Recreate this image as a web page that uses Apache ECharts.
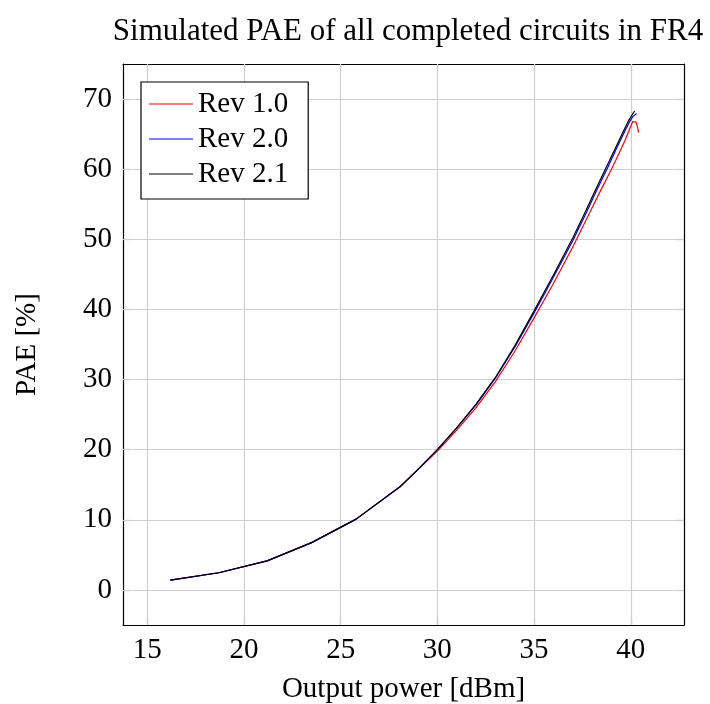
<!DOCTYPE html>
<html>
<head>
<meta charset="utf-8">
<script src="https://cdn.jsdelivr.net/npm/echarts@6/dist/echarts.min.js"></script>
<style>
html,body{margin:0;padding:0;background:#fff;}
#chart{width:710px;height:704px;}
</style>
</head>
<body>
<div id="chart"></div>
<script>
// ---- data ----
const title = 'Simulated PAE of all completed circuits in FR4';
const xName = 'Output power [dBm]';
const yName = 'PAE [%]';
const seriesNames = ['Rev 1.0', 'Rev 2.0', 'Rev 2.1'];
const seriesColors = ['#ff0000', '#0000ff', '#000000'];
const xTicks = [15, 20, 25, 30, 35, 40];
const yTicks = [0, 10, 20, 30, 40, 50, 60, 70];

const rev10 = [
  [16.2,1.4],[18.7,2.45],[21.2,4.15],[23.5,6.75],[25.8,10.1],[28.1,14.75],[29,17.15],
  [30,19.8],[31,22.8],[32,26.0],[33,29.7],[34,34.0],[35,38.8],[36,43.7],[37,48.9],
  [38,54.5],[38.5,57.3],[39,60.0],[39.4,62.3],[39.7,64.1],[39.95,65.8],[40.1,66.8],
  [40.18,67.05],[40.27,66.7],[40.35,66.0],[40.4,65.2]
];
const rev20 = [
  [16.2,1.4],[18.7,2.45],[21.2,4.15],[23.5,6.75],[25.8,10.1],[28.1,14.8],[29,17.2],
  [30,20.0],[31,23.1],[32,26.4],[33,30.2],[34,34.6],[35,39.5],[36,44.6],[37,49.8],
  [37.7,53.8],[38.2,56.8],[38.8,60.2],[39.2,62.6],[39.6,64.9],[39.9,66.6],[40.1,67.5],
  [40.3,67.95]
];
const rev21 = [
  [16.2,1.4],[18.7,2.45],[21.2,4.15],[23.5,6.75],[25.8,10.1],[28.1,14.8],[29,17.2],
  [30,20.0],[31,23.1],[32,26.5],[33,30.3],[34,34.8],[35,39.8],[36,44.9],[37,50.2],
  [37.7,54.2],[38.2,57.2],[38.7,60.1],[39.2,63.0],[39.6,65.3],[39.9,67.0],[40.1,67.9],
  [40.2,68.3]
];

const FONT = 'Liberation Serif';
const FS = 29;
const chart = echarts.init(document.getElementById('chart'));

function isMember(v, arr){ return arr.some(t => Math.abs(t - v) < 1e-6); }

function makeAxis(base, ticks, pos, withLabels){
  return {
    type: 'value', min: base.min, max: base.max, interval: base.interval,
    position: pos,
    axisLine: {show: true, onZero: false, lineStyle: {color: '#000', width: 1.2}},
    axisTick: {show: true, inside: true, length: 7, customValues: ticks,
      lineStyle: {color: '#a0a0a0', width: 1.2}},
    splitLine: {show: false},
    axisLabel: {show: withLabels, customValues: ticks, color: '#000', fontFamily: FONT,
      fontSize: FS, margin: 11,
      formatter: v => isMember(v, ticks) ? String(v) : ''}
  };
}

const xBase = {min: 13.75, max: 42.75, interval: 1.25};
const yBase = {min: -5, max: 75, interval: 5};

const data = [rev10, rev20, rev21];

const gridLines = xTicks.map(v => ({xAxis: v})).concat(yTicks.map(v => ({yAxis: v})));

const series = [{
  name: '__grid', type: 'line', data: [[xTicks[0], yTicks[0]]],
  symbol: 'none', showSymbol: false, lineStyle: {opacity: 0}, silent: true, z: 1,
  markLine: {
    symbol: 'none', silent: true, animation: false, z: 1,
    label: {show: false},
    lineStyle: {color: '#cfcfcf', type: 'solid', width: 1.2},
    emphasis: {disabled: true},
    data: gridLines
  }
}].concat(seriesNames.map((n, i) => ({
  name: n, type: 'line', data: data[i], xAxisIndex: 0, yAxisIndex: 0,
  showSymbol: false, symbol: 'none', smooth: false,
  lineStyle: {color: seriesColors[i], width: 1.2},
  itemStyle: {color: seriesColors[i]},
  z: 3 + i
})));

const xb = makeAxis(xBase, xTicks, 'bottom', true);
xb.name = xName; xb.nameLocation = 'middle'; xb.nameGap = 50;
xb.nameTextStyle = {fontFamily: FONT, fontSize: FS, color: '#000'};
const xt = makeAxis(xBase, xTicks, 'top', false);
const yl = makeAxis(yBase, yTicks, 'left', true);
yl.name = yName; yl.nameLocation = 'middle'; yl.nameGap = 81; yl.nameRotate = 90;
yl.nameTextStyle = {fontFamily: FONT, fontSize: FS, color: '#000'};
const yr = makeAxis(yBase, yTicks, 'right', false);

chart.setOption({
  animation: false,
  backgroundColor: '#fff',
  title: {
    text: title, left: 403, top: 11, textAlign: 'center',
    textStyle: {fontFamily: FONT, fontWeight: 'normal', fontSize: 31, color: '#000'}
  },
  grid: {left: 123, top: 64, right: 26, bottom: 79, containLabel: false, outerBoundsMode: 'none'},
  xAxis: [xb, xt],
  yAxis: [yl, yr],
  legend: {
    orient: 'vertical', left: 141, top: 82, z: 50, zlevel: 0,
    data: seriesNames,
    icon: 'rect', itemWidth: 44, itemHeight: 1.2, itemGap: 5,
    padding: [7, 20, 10, 8],
    borderColor: '#000', borderWidth: 1.2, backgroundColor: '#fff',
    textStyle: {fontFamily: FONT, fontSize: FS, color: '#000', lineHeight: 30}
  },
  series: series
});
</script>
</body>
</html>
